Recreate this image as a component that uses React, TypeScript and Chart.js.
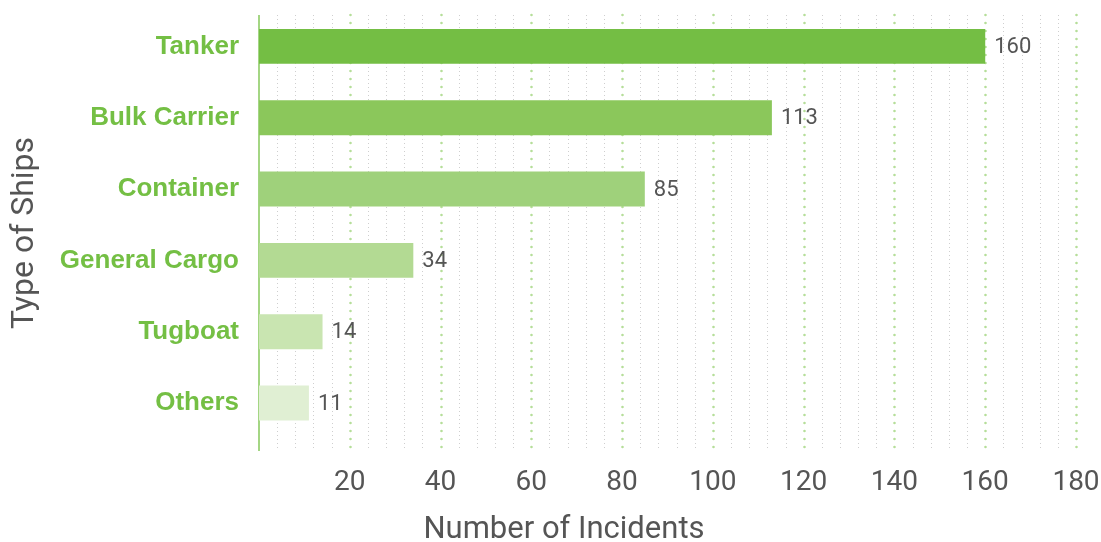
import React, { useEffect, useRef } from "react";
import { Chart, registerables } from "chart.js";

Chart.register(...registerables);

const categories = ["Tanker", "Bulk Carrier", "Container", "General Cargo", "Tugboat", "Others"];
const incidents = [160, 113, 85, 34, 14, 11];
const barColors = ["#74be44", "#8bc75b", "#9fd17b", "#b3da93", "#c9e5b1", "#e0efd3"];
const xTickLabels = [20, 40, 60, 80, 100, 120, 140, 160, 180];
const xTitle = "Number of Incidents";
const yTitle = "Type of Ships";

const W = 1101;
const H = 542;
const AREA_LEFT = 259;
const AREA_RIGHT = 1076;
const AREA_TOP = 10.7;
const AREA_BOTTOM = 438.7;
const GRID_TOP = 15;
const GRID_BOTTOM = 451;

const decorPlugin = {
  id: "decor",
  beforeDatasetsDraw(chart: any) {
    const ctx = chart.ctx;
    const x = chart.scales.x;
    ctx.save();
    for (let v = 4; v <= 180; v += 4) {
      const px = Math.round(x.getPixelForValue(v)) + 0.5;
      const major = xTickLabels.includes(v);
      ctx.beginPath();
      if (major) {
        ctx.strokeStyle = "#b5de99";
        ctx.lineWidth = 2.6;
        ctx.lineCap = "round";
        ctx.setLineDash([0, 8]);
      } else {
        ctx.strokeStyle = "#cfcfcf";
        ctx.lineWidth = 1;
        ctx.lineCap = "butt";
        ctx.setLineDash([1, 3]);
      }
      ctx.moveTo(px, GRID_TOP);
      ctx.lineTo(px, GRID_BOTTOM);
      ctx.stroke();
    }
    ctx.setLineDash([]);
    ctx.lineCap = "butt";
    ctx.strokeStyle = "#86c95b";
    ctx.lineWidth = 1.5;
    const ax = x.getPixelForValue(0);
    ctx.beginPath();
    ctx.moveTo(ax, GRID_TOP);
    ctx.lineTo(ax, GRID_BOTTOM);
    ctx.stroke();
    ctx.restore();
  },
  afterDatasetsDraw(chart: any) {
    const ctx = chart.ctx;
    const meta = chart.getDatasetMeta(0);
    ctx.save();
    ctx.font = "22px Roboto";
    ctx.fillStyle = "#555555";
    ctx.textAlign = "left";
    ctx.textBaseline = "middle";
    meta.data.forEach((bar: any, i: number) => {
      ctx.fillText(String(incidents[i]), bar.x + 9, bar.y + 1);
    });
    // x axis title
    ctx.font = "31px Roboto";
    ctx.textAlign = "center";
    ctx.textBaseline = "alphabetic";
    ctx.fillText(xTitle, 564, 538);
    // y axis title
    ctx.translate(33, 233);
    ctx.rotate(-Math.PI / 2);
    ctx.font = "32px Roboto";
    ctx.fillText(yTitle, 0, 0);
    ctx.restore();
  },
};

export default function App() {
  const ref = useRef<HTMLCanvasElement>(null);
  useEffect(() => {
    if (!ref.current) return;
    const chart = new Chart(ref.current, {
      type: "bar",
      data: {
        labels: categories,
        datasets: [
          {
            data: incidents,
            backgroundColor: barColors,
            borderWidth: 0,
            categoryPercentage: 1,
            barPercentage: 0.49,
          },
        ],
      },
      options: {
        indexAxis: "y",
        animation: false,
        responsive: true,
        maintainAspectRatio: false,
        layout: { padding: { top: AREA_TOP, right: W - AREA_RIGHT, left: 0, bottom: 0 } },
        plugins: { legend: { display: false }, tooltip: { enabled: false } },
        scales: {
          x: {
            type: "linear",
            min: 0,
            max: 180,
            grid: { display: false, drawTicks: false },
            border: { display: false },
            ticks: {
              stepSize: 4,
              autoSkip: false,
              maxRotation: 0,
              padding: 27,
              color: "#555555",
              font: { family: "Roboto", size: 28 },
              callback: (v: any) => (xTickLabels.includes(Number(v)) ? String(v) : ""),
            },
            title: { display: false },
            afterFit: (s: any) => {
              s.height = H - AREA_BOTTOM;
              s.paddingLeft = 0;
              s.paddingRight = 0;
              s.paddingTop = 0;
              s.paddingBottom = 0;
            },
          },
          y: {
            grid: { display: false, drawTicks: false },
            border: { display: false },
            ticks: {
              padding: 20,
              color: "#74bf44",
              font: { family: "'Liberation Sans', Arial, sans-serif", size: 26, weight: "bold" },
            },
            afterFit: (s: any) => {
              s.width = AREA_LEFT;
              s.paddingLeft = 0;
              s.paddingRight = 0;
              s.paddingTop = 0;
              s.paddingBottom = 0;
            },
          },
        },
      },
      plugins: [decorPlugin],
    } as any);
    return () => chart.destroy();
  }, []);
  return (
    <div style={{ position: "fixed", left: 0, top: 0, width: W, height: H, background: "#fff" }}>
      <canvas ref={ref} />
    </div>
  );
}
